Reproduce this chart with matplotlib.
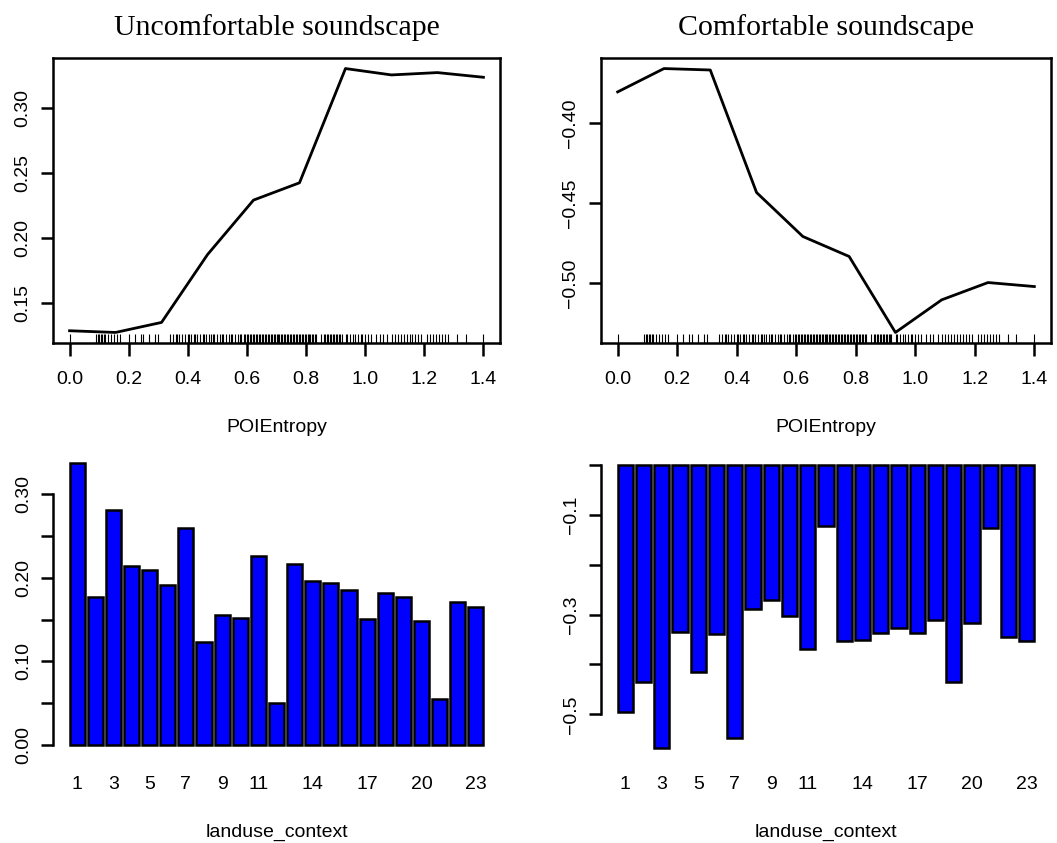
import numpy as np
import matplotlib.pyplot as plt
from matplotlib.ticker import FixedLocator, FixedFormatter

plt.rcParams['font.family'] = ['Liberation Sans', 'DejaVu Sans']

# partial dependence on POIEntropy
poi_x = [0.0, 0.1556, 0.3111, 0.4667, 0.6222, 0.7778, 0.9333, 1.0889, 1.2444, 1.4]
uncomf_poi = [0.1287, 0.1274, 0.1351, 0.1872, 0.2290, 0.2423, 0.3300, 0.3251, 0.3269, 0.3233]
comf_poi = [-0.3804, -0.3658, -0.3667, -0.4433, -0.4708, -0.4833, -0.5308, -0.5104, -0.4996, -0.5021]

# observed POIEntropy values (rug)
rug = [0.00,
       0.09, 0.095, 0.10, 0.105, 0.11, 0.115, 0.12, 0.13, 0.14, 0.15, 0.16, 0.17,
       0.20, 0.22, 0.24, 0.25, 0.27, 0.29, 0.30,
       0.34, 0.35, 0.36, 0.365, 0.37, 0.38, 0.39,
       0.40, 0.405, 0.41, 0.42, 0.425, 0.43, 0.44, 0.45, 0.455, 0.46, 0.47, 0.48,
       0.485, 0.49, 0.50, 0.51, 0.515, 0.52, 0.53, 0.54, 0.545, 0.55, 0.56, 0.57,
       0.575, 0.58, 0.59, 0.595,
       0.60, 0.605, 0.61, 0.615, 0.62, 0.625, 0.63, 0.635, 0.64, 0.645, 0.65, 0.655,
       0.66, 0.665, 0.67, 0.675, 0.68, 0.685, 0.69, 0.695, 0.70, 0.705, 0.71, 0.715,
       0.72, 0.725, 0.73, 0.735, 0.74, 0.745, 0.75, 0.755, 0.76, 0.765, 0.77, 0.775,
       0.78, 0.785, 0.79, 0.795, 0.80, 0.805, 0.81, 0.815, 0.82, 0.825, 0.83, 0.835,
       0.85, 0.86, 0.865, 0.87, 0.875, 0.88, 0.885, 0.89, 0.895, 0.90, 0.905, 0.91,
       0.915, 0.92,
       0.935, 0.94, 0.95, 0.96, 0.965, 0.975, 0.985, 0.99, 1.00, 1.01, 1.02, 1.035,
       1.05, 1.06, 1.075, 1.09, 1.10, 1.11, 1.12, 1.13, 1.14, 1.15, 1.16, 1.17, 1.18,
       1.19, 1.21, 1.22, 1.23, 1.24, 1.25, 1.26, 1.27, 1.28,
       1.31, 1.34, 1.40]

# partial dependence on landuse_context
landuse = list(range(1, 24))
uncomf_land = [0.3375, 0.1765, 0.2809, 0.2143, 0.2092, 0.1912, 0.2594, 0.1227, 0.1550,
               0.1522, 0.2263, 0.0506, 0.2163, 0.1964, 0.1932, 0.1857, 0.1510, 0.1821,
               0.1773, 0.1486, 0.0554, 0.1713, 0.1645]
comf_land = [-0.4945, -0.4348, -0.5668, -0.3357, -0.4147, -0.3384, -0.5474, -0.2888,
             -0.2700, -0.3028, -0.3698, -0.1226, -0.3531, -0.3504, -0.3370, -0.3270,
             -0.3363, -0.3109, -0.4355, -0.3169, -0.1273, -0.3444, -0.3538]
land_ticklabels = [1, 3, 5, 7, 9, 11, 14, 17, 20, 23]

W, H = 1057, 843
fig = plt.figure(figsize=(W / 100, H / 100), dpi=100)


def add_ax(l, t, r, b):
    return fig.add_axes([l / W, 1 - b / H, (r - l) / W, (b - t) / H])


def yrot(ax):
    for lbl in ax.get_yticklabels():
        lbl.set_rotation(90)
        lbl.set_va('center')


def line_panel(ax, yvals, yticks, ylabels, ylim, title):
    ax.plot(poi_x, yvals, color='black', lw=2.0)
    ax.vlines(rug, 0, 0.03, transform=ax.get_xaxis_transform(), color='black', lw=0.8)
    ax.set_xlim(-0.056, 1.456)
    ax.set_ylim(*ylim)
    ax.set_xticks([0.0, 0.2, 0.4, 0.6, 0.8, 1.0, 1.2, 1.4])
    ax.set_xticklabels(['0.0', '0.2', '0.4', '0.6', '0.8', '1.0', '1.2', '1.4'])
    ax.yaxis.set_major_locator(FixedLocator(yticks))
    ax.yaxis.set_major_formatter(FixedFormatter(ylabels))
    for s in ax.spines.values():
        s.set_linewidth(1.8)
    ax.tick_params(direction='out', length=9, width=1.8, labelsize=14)
    ax.tick_params(axis='x', pad=11)
    ax.tick_params(axis='y', pad=6.5)
    yrot(ax)
    ax.set_xlabel('POIEntropy', fontsize=14)
    ax.xaxis.set_label_coords(0.5, -0.298)
    ax.xaxis.label.set_va('center')
    ax.set_title(title, fontsize=21.5, family='Liberation Serif', pad=16.5)


def bar_panel(ax, vals, yticks, ylabels, ylim):
    centers = [0.7 + 1.2 * (i - 1) for i in landuse]
    ax.bar(centers, vals, width=1.0, color='#0000ff', edgecolor='black', lw=1.8)
    ax.set_xlim(-0.896, 28.696)
    ax.set_ylim(*ylim)
    ax.set_xticks([centers[i - 1] for i in land_ticklabels])
    ax.set_xticklabels([str(i) for i in land_ticklabels])
    ax.yaxis.set_major_locator(FixedLocator(yticks))
    ax.yaxis.set_major_formatter(FixedFormatter(ylabels))
    for side in ['top', 'right', 'bottom']:
        ax.spines[side].set_visible(False)
    ax.spines['left'].set_linewidth(1.8)
    ax.spines['left'].set_bounds(min(yticks), max(yticks))
    ax.tick_params(axis='x', length=0, labelsize=14, pad=14)
    ax.tick_params(axis='y', direction='out', length=9, width=1.8, labelsize=14, pad=6)
    yrot(ax)
    ax.set_xlabel('landuse_context', fontsize=14)
    ax.xaxis.set_label_coords(0.5, -0.245)
    ax.xaxis.label.set_va('center')


ax1 = add_ax(53, 58, 500, 343)
line_panel(ax1, uncomf_poi, [0.15, 0.20, 0.25, 0.30], ['0.15', '0.20', '0.25', '0.30'],
           (0.1193, 0.3381), 'Uncomfortable soundscape')

ax2 = add_ax(601, 58, 1051, 343)
line_panel(ax2, comf_poi, [-0.50, -0.45, -0.40], ['\u22120.50', '\u22120.45', '\u22120.40'],
           (-0.5374, -0.3592), 'Comfortable soundscape')

ax3 = add_ax(53, 451, 500, 757)
bar_panel(ax3, uncomf_land, [0.0, 0.05, 0.10, 0.15, 0.20, 0.25, 0.30],
          ['0.00', '', '0.10', '', '0.20', '', '0.30'], (-0.0143, 0.3514))

ax4 = add_ax(601, 451, 1051, 757)
bar_panel(ax4, comf_land, [-0.5, -0.4, -0.3, -0.2, -0.1, 0.0],
          ['\u22120.5', '', '\u22120.3', '', '\u22120.1', ''], (-0.5855, 0.0281))

fig.savefig('out.png', dpi=100)
